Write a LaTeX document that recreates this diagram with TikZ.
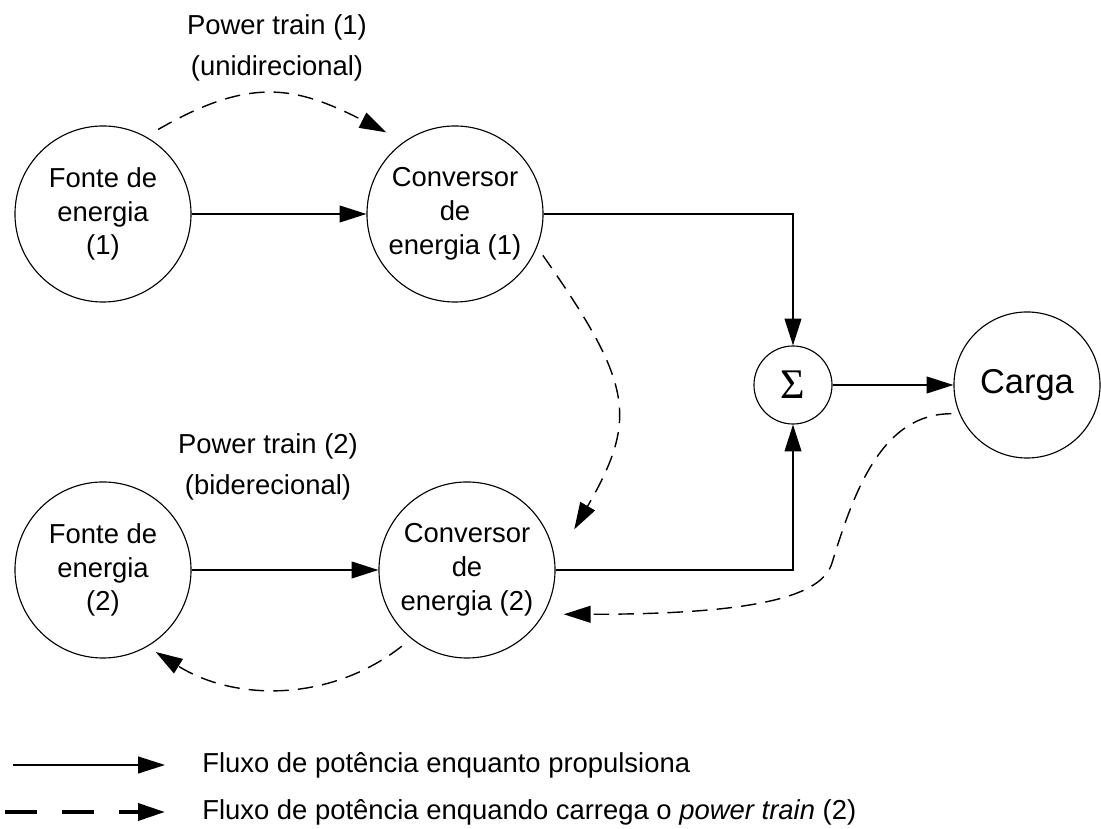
\documentclass[tikz,border=0pt]{standalone}
\usepackage{fontspec}
\setmainfont{Liberation Sans}
\newfontfamily\sigfont{Liberation Serif}
\usetikzlibrary{arrows.meta,shapes,positioning}

\tikzset{
  blob/.style={draw, circle, line width=0.8pt, inner sep=0pt, minimum size=4.4cm,
    align=center, font=\fontsize{19.5}{24}\selectfont},
  flux/.style={line width=1pt, -{Triangle[length=0.67cm,width=0.42cm]}},
  fluxdash/.style={flux, dash pattern=on 11pt off 6.5pt},
  lbl/.style={align=center, font=\fontsize{19.5}{29}\selectfont},
  keytext/.style={anchor=west, inner sep=0pt, font=\fontsize{19.5}{24}\selectfont}
}

\begin{document}
\begin{tikzpicture}[x=0.025cm,y=0.025cm] %the two power trains
    \useasboundingbox (0,0) rectangle (1101,829);
    %the circles
    \node[blob] (F1) at (103,615) {Fonte de\\energia\\(1)};
    \node[blob] (C1) at (455,615) {Conversor\\de\\energia (1)};
    \node[blob] (F2) at (103,259) {Fonte de\\energia\\(2)};
    \node[blob] (C2) at (467,259) {Conversor\\de\\energia (2)};
    \node[blob, minimum size=1.95cm, font=\sigfont\fontsize{30}{32}\selectfont] (S) at (793,444) {Σ};
    \node[blob, minimum size=3.65cm, font=\fontsize{24.5}{28}\selectfont] (L) at (1027,444) {Carga};
    %the power train labels
    \node[lbl] (PT1) at (277,781) {Power train (1)\\(unidirecional)};
    \node[lbl] (PT2) at (268,362) {Power train (2)\\(biderecional)};
    \coordinate (bend) at (832,266);
%the arrows
    \begin{scope}[every path/.style={flux}]
       \draw (F1) -- (C1);
       \draw (F2) -- (C2);
       \draw (C1) -| (S);
       \draw (C2) -| (S);
       \draw (S) -- (L);
    \end{scope}
%charging the power train (2)
    \begin{scope}[every path/.style={fluxdash}]
       \draw[shorten <=0.35cm, shorten >=0.5cm] (F1.61) to[out=30,in=153,looseness=1.2] (C1.125);
       \draw[shorten <=0.25cm, shorten >=0.95cm] (C1.-22) to[out=-55,in=60,looseness=1.35] (C2.5);
       \draw[shorten <=0.3cm, shorten >=0.25cm] (C2.231) to[out=218,in=-32] (F2.-60);
       \draw[shorten <=0.2cm, shorten >=0.5cm] (L.203) to[out=180,in=73] (bend)
          to[out=253,in=0,out distance=0.85cm,in distance=5.4cm] (C2.-30);
    \end{scope}
%the legend
    \coordinate (k1) at (13,64);
    \coordinate (k2) at (165,64);
    \coordinate (k3) at (5,17);
    \coordinate (k4) at (165,17);
    \draw[flux] (k1) -- (k2);
    \draw[flux, line width=2.8pt, dash pattern=on 22.7pt off 17.7pt] (k3) -- (k4);
    \node[keytext] (t1) at (202,64) {Fluxo de potência enquanto propulsiona};
    \node[keytext] (t2) at (202,17) {Fluxo de potência enquando carrega o \textit{power train} (2)};
\end{tikzpicture}
\end{document}
